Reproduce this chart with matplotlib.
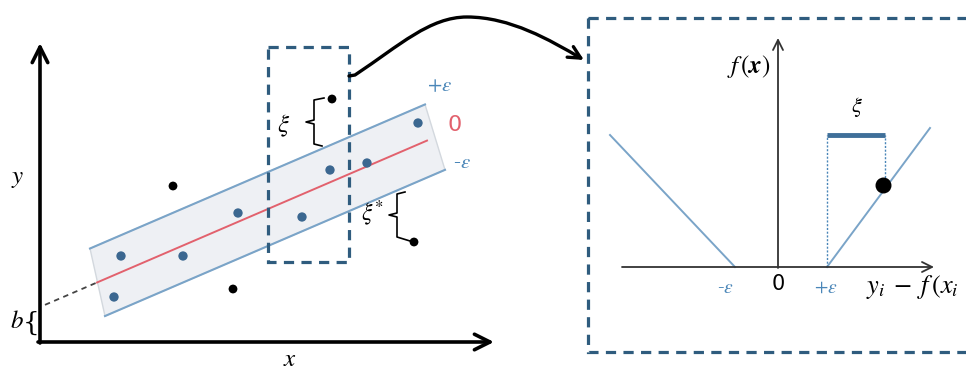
import matplotlib
matplotlib.use("Agg")
import matplotlib.pyplot as plt
import numpy as np
from matplotlib.patches import Polygon, FancyArrowPatch, Rectangle
from matplotlib.path import Path

plt.rcParams['mathtext.fontset'] = 'stix'
plt.rcParams['font.family'] = ['DejaVu Serif']

# ---------------- data (pixel-space diagram coordinates) ----------------
# regression line: y = b0 + slope*(x - x0), epsilon tube half-height
line_x0, line_b0, line_slope, tube_eps = 40, 307, -0.43, 37
band_left_x = [90, 105]     # upper, lower start
band_right_x = [425, 445]   # upper, lower end
red_span = [97, 427]

inside_x = [121, 183, 238, 302, 330, 367, 418, 114]
inside_y = [256, 256, 213, 217, 170, 163, 123, 297]
outside_x = [173, 233, 332, 414]
outside_y = [186, 289, 99, 242]

# loss function panel
loss_left_x = [610, 735]
loss_left_y = [135, 267]
loss_right_x = [827, 930]
loss_right_y = [267, 128]
loss_point = (883, 185)
xi_bar_x = [827, 885]
xi_bar_y = 135

fig = plt.figure(figsize=(9.66, 3.71), dpi=100)
ax = fig.add_axes([0, 0, 1, 1])
ax.set_xlim(0, 966)
ax.set_ylim(371, 0)
ax.axis('off')

def fline(x, off=0):
    return line_b0 + line_slope * (np.asarray(x) - line_x0) + off

blue_line = '#7aa4c8'
dot_blue = '#3b6790'
box_col = '#2f5c7e'
eps_col = '#4a86b8'

# ---- left panel axes ----
ax.annotate('', xy=(40, 43), xytext=(40, 343),
            arrowprops=dict(arrowstyle='->', lw=2.6, color='black', mutation_scale=28,
                            shrinkA=0, shrinkB=0))
ax.annotate('', xy=(494, 342), xytext=(38, 342),
            arrowprops=dict(arrowstyle='->', lw=2.6, color='black', mutation_scale=28,
                            shrinkA=0, shrinkB=0))
ax.text(18, 178, '$y$', fontsize=18, ha='center', va='center')
ax.text(290, 360, '$x$', fontsize=18, ha='center', va='center')
ax.text(17, 322, '$b$', fontsize=18, ha='center', va='center')
# b brace
ax.text(31, 323, '{', fontsize=19, ha='center', va='center', family='DejaVu Serif',
        fontweight='light')

# ---- band ----
ul = (band_left_x[0], fline(band_left_x[0], -tube_eps))
ur = (band_right_x[0], fline(band_right_x[0], -tube_eps))
ll = (band_left_x[1], fline(band_left_x[1], tube_eps))
lr = (band_right_x[1], fline(band_right_x[1], tube_eps))
ax.add_patch(Polygon([ul, ur, lr, ll], closed=True, facecolor='#eef0f4',
                     edgecolor='#d3d8de', lw=1.0, zorder=1))
ax.plot([ul[0], ur[0]], [ul[1], ur[1]], color=blue_line, lw=1.5, zorder=2)
ax.plot([ll[0], lr[0]], [ll[1], lr[1]], color=blue_line, lw=1.5, zorder=2)
ax.plot(red_span, fline(red_span), color='#e2616d', lw=1.4, zorder=2)
ax.plot([line_x0 + 5, red_span[0]], fline([line_x0 + 5, red_span[0]]),
        color='#444444', lw=1.3, ls=(0, (3, 2.5)), zorder=2)

ax.scatter(inside_x, inside_y, s=45, color=dot_blue, zorder=4, edgecolors='none')
ax.scatter(outside_x, outside_y, s=40, color='black', zorder=4, edgecolors='none')

ax.text(440, 86, r'$+\varepsilon$', fontsize=15, color=eps_col, ha='center', va='center')
ax.text(455, 125, '0', fontsize=16, color='#e2616d', ha='center', va='center',
        family='DejaVu Sans')
ax.text(462, 163, r'-$\varepsilon$', fontsize=15, color=eps_col, ha='center', va='center')

# xi braces
brace1 = [(324, 98), (314, 100), (314, 120), (306, 122), (314, 124), (314, 144), (322, 146)]
ax.plot(*zip(*brace1), color='black', lw=1.2, zorder=3)
ax.text(284, 126, r'$\xi$', fontsize=18, ha='center', va='center')
brace2 = [(405, 192), (397, 194), (397, 213), (389, 215), (397, 217), (397, 237), (410, 241)]
ax.plot(*zip(*brace2), color='black', lw=1.2, zorder=3)
ax.text(372, 213, r'$\xi^{*}$', fontsize=17, ha='center', va='center')

# zoom box
ax.add_patch(Rectangle((268, 47), 81, 215, fill=False, edgecolor=box_col, lw=2.3,
                       ls=(0, (3.2, 2.3)), zorder=5))

# connector curve
verts = [(349, 76), (355, 75), (400, 45), (430, 17), (467, 17),
         (510, 17), (550, 40), (584, 60)]
codes = [Path.MOVETO, Path.LINETO, Path.CURVE4, Path.CURVE4, Path.CURVE4,
         Path.CURVE4, Path.CURVE4, Path.CURVE4]
ax.add_patch(FancyArrowPatch(path=Path(verts, codes), arrowstyle='->', lw=2.4,
                             color='black', mutation_scale=22, zorder=5))

# ---- right panel ----
ax.add_patch(Rectangle((588, 18), 400, 334, fill=False, edgecolor=box_col, lw=2.3,
                       ls=(0, (3.2, 2.3)), zorder=5, clip_on=True))
ax.annotate('', xy=(778, 38), xytext=(778, 268),
            arrowprops=dict(arrowstyle='->', lw=1.3, color='#333333', mutation_scale=18,
                            shrinkA=0, shrinkB=0))
ax.annotate('', xy=(934, 267), xytext=(622, 267),
            arrowprops=dict(arrowstyle='->', lw=1.3, color='#333333', mutation_scale=18,
                            shrinkA=0, shrinkB=0))
ax.plot(loss_left_x, loss_left_y, color=blue_line, lw=1.4)
ax.plot(loss_right_x, loss_right_y, color=blue_line, lw=1.4)
ax.plot([xi_bar_x[0], xi_bar_x[0]], [267, xi_bar_y], color=eps_col, lw=1.0, ls=(0, (1.5, 1.2)))
ax.plot([xi_bar_x[1], xi_bar_x[1]], [loss_point[1], xi_bar_y], color=eps_col, lw=1.0,
        ls=(0, (1.5, 1.2)))
ax.plot(xi_bar_x, [xi_bar_y, xi_bar_y], color='#3f6f99', lw=3.5, solid_capstyle='butt')
ax.scatter([loss_point[0]], [loss_point[1]], s=110, color='black', zorder=6)
ax.text(857, 107, r'$\xi$', fontsize=16, ha='center', va='center')
ax.text(749, 67, r'$f\,(\mathbfit{x})$', fontsize=18, ha='center', va='center')
ax.text(725, 288, r'-$\varepsilon$', fontsize=14, color=eps_col, ha='center', va='center')
ax.text(778, 284, '0', fontsize=15, ha='center', va='center', family='DejaVu Sans')
ax.text(826, 288, r'$+\varepsilon$', fontsize=14, color=eps_col, ha='center', va='center')
ax.text(866, 287, r'$y_i\;-\;f\,(x_i$', fontsize=19, ha='left', va='center')

fig.savefig('out.png', dpi=100)
